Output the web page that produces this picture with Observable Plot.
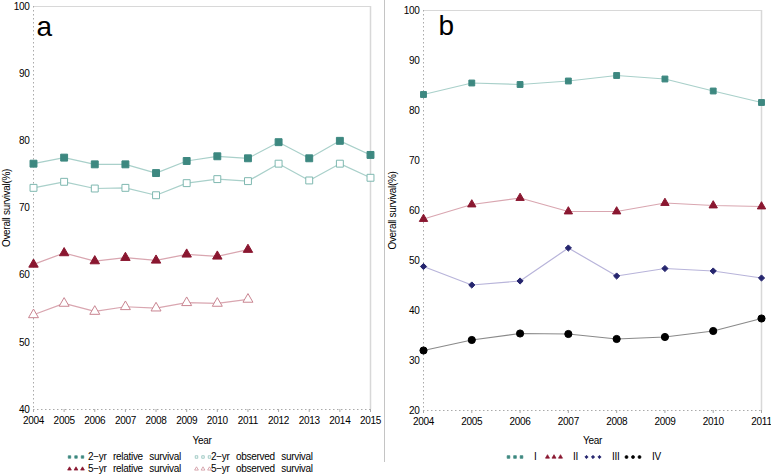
<!DOCTYPE html>
<html><head><meta charset="utf-8">
<script src="https://cdn.jsdelivr.net/npm/d3@7"></script>
<script src="https://cdn.jsdelivr.net/npm/@observablehq/plot@0.6"></script>
<style>
body{margin:0;background:#fff;font-family:"Liberation Sans",Arial,sans-serif;}
#wrap{position:relative;width:771px;height:475px;overflow:hidden;}
#pa{position:absolute;left:0;top:0;}
#pb{position:absolute;left:385px;top:0;}
#sep{position:absolute;left:384px;top:0;width:1px;height:462px;background:#c4c4c4;}
.leg{position:absolute;font-size:10px;color:#000;white-space:nowrap;line-height:12px;height:12px;}
.leg svg{position:absolute;top:2px;left:0;}
.leg span{position:absolute;top:0;word-spacing:4px;letter-spacing:-0.3px;}
</style></head>
<body><div id="wrap"><div id="pa"></div><div id="sep"></div><div id="pb"></div></div>
<script>
// ---- Panel a data ----
const yearsA = [2004,2005,2006,2007,2008,2009,2010,2011,2012,2013,2014,2015];
const rel2 = [76.6,77.5,76.5,76.5,75.2,77.0,77.7,77.4,79.8,77.4,80.0,77.9];
const obs2 = [73.0,73.9,72.9,73.0,71.9,73.7,74.3,74.0,76.6,74.1,76.6,74.5];
const yearsA5 = [2004,2005,2006,2007,2008,2009,2010,2011];
const rel5 = [61.6,63.3,62.1,62.6,62.2,63.1,62.8,63.8];
const obs5 = [54.1,55.8,54.6,55.3,55.1,55.9,55.8,56.4];
const ticksYA = [40,50,60,70,80,90,100];
const seriesA = ["2\u2212yr relative survival","2\u2212yr observed survival","5\u2212yr relative survival","5\u2212yr observed survival"];

// ---- Panel b data ----
const yearsB = [2004,2005,2006,2007,2008,2009,2010,2011];
const stageI = [83.2,85.5,85.2,85.9,87.0,86.3,83.9,81.6];
const stageII = [58.3,61.2,62.5,59.8,59.8,61.5,61.0,60.8];
const stageIII = [48.8,45.1,45.9,52.5,46.9,48.4,47.9,46.5];
const stageIV = [32.0,34.1,35.4,35.3,34.3,34.7,35.9,38.4];
const ticksYB = [20,30,40,50,60,70,80,90,100];
const stages = ["I","II","III","IV"];

const TEAL="#3d8880", TEAL_L="#a9d0ca", TEAL_O="#7fb8b0", RED="#8a1730", RED_L="#d9a6b0", RED_O="#c98591", NAVY="#25256e", NAVY_L="#b8b4da", BLK="#000", BLK_L="#8a8a8a";

const tbl = (xs, ys) => xs.map((x,i)=>({x, y: ys[i]}));

function frameMarks(xd, yd){
  return [
    Plot.ruleY([yd[1]], {stroke:"#d8d8d8"}),
    Plot.ruleX([xd[1]], {stroke:"#d8d8d8", strokeWidth:1.5}),
    Plot.ruleX([xd[0]], {stroke:"#aaa", strokeDasharray:"1.5,2.5"}),
    Plot.ruleY([yd[0]], {stroke:"#aaa", strokeDasharray:"1.5,2.5"})
  ];
}
function series(data, lineColor, sym, fill, stroke, r){
  return [
    Plot.line(data, {x:"x", y:"y", stroke:lineColor, strokeWidth:1.2}),
    Plot.dot(data, {x:"x", y:"y", symbol:sym, fill, stroke, r, strokeWidth:1})
  ];
}
const common = {fontFamily:"'Liberation Sans', Arial, sans-serif", fontSize:"10px", color:"#000", background:"#fff", letterSpacing:"-0.3px"};

// Panel a
const xdA=[2004,2015], ydA=[40,100];
const pa = Plot.plot({
  width:385, height:450, marginLeft:33, marginRight:15, marginTop:6, marginBottom:41,
  style: common,
  x:{domain:xdA}, y:{domain:ydA},
  marks:[
    ...frameMarks(xdA, ydA),
    Plot.axisX(yearsA, {tickSize:3, tickPadding:4, stroke:"#aaa", tickFormat:d=>String(d), label:null}),
    Plot.axisY(ticksYA, {tickSize:0, tickPadding:4, label:null}),
    ...series(tbl(yearsA,rel2), TEAL_L, "square", TEAL, TEAL, 3.9),
    ...series(tbl(yearsA,obs2), TEAL_L, "square", "#fff", TEAL_O, 3.9),
    ...series(tbl(yearsA5,rel5), RED_L, "triangle", RED, RED, 3.5),
    ...series(tbl(yearsA5,obs5), RED_L, "triangle", "#fff", RED_O, 3.7),
    Plot.text(["a"], {frameAnchor:"top-left", dx:3, dy:10, fontSize:28, lineAnchor:"top", textAnchor:"start"}),
    Plot.text(["Overall survival(%)"], {frameAnchor:"left", rotate:-90, dx:-27, textAnchor:"middle", fontSize:10}),
    Plot.text(["Year"], {frameAnchor:"bottom", dy:31, lineAnchor:"middle", fontSize:10})
  ]
});
document.getElementById("pa").appendChild(pa);

// Panel b
const xdB=[2004,2011], ydB=[20,100];
const pb = Plot.plot({
  width:386, height:450, marginLeft:38, marginRight:10, marginTop:10, marginBottom:40,
  style: common,
  x:{domain:xdB}, y:{domain:ydB},
  marks:[
    ...frameMarks(xdB, ydB),
    Plot.axisX(yearsB, {tickSize:3, tickPadding:4, stroke:"#aaa", tickFormat:d=>String(d), label:null}),
    Plot.axisY(ticksYB, {tickSize:0, tickPadding:4, label:null}),
    ...series(tbl(yearsB,stageI), TEAL_L, "square", TEAL, TEAL, 3.3),
    ...series(tbl(yearsB,stageII), RED_L, "triangle", RED, RED, 3.1),
    ...series(tbl(yearsB,stageIII), NAVY_L, "diamond2", NAVY, NAVY, 2.8),
    ...series(tbl(yearsB,stageIV), BLK_L, "circle", BLK, BLK, 3.6),
    Plot.text(["b"], {frameAnchor:"top-left", dx:15, dy:5, fontSize:28, lineAnchor:"top", textAnchor:"start"}),
    Plot.text(["Overall survival(%)"], {frameAnchor:"left", rotate:-90, dx:-31, textAnchor:"middle", fontSize:10}),
    Plot.text(["Year"], {frameAnchor:"bottom", dy:30, lineAnchor:"middle", fontSize:10})
  ]
});
document.getElementById("pb").appendChild(pb);

// Legends (HTML)
function markerSvg(sym, fill, stroke, r){
  const s = d3.select(document.createElementNS("http://www.w3.org/2000/svg","svg")).attr("width",20).attr("height",8);
  const shapes = {square:d3.symbolSquare, triangle:d3.symbolTriangle, diamond2:d3.symbolDiamond2, circle:d3.symbolCircle};
  [2.5,9,15.5].forEach(cx=>{
    s.append("path").attr("d", d3.symbol(shapes[sym], Math.PI*r*r)()).attr("transform",`translate(${cx},4)`)
     .attr("fill",fill).attr("stroke",stroke).attr("stroke-width",0.7);
  });
  return s.node();
}
function addLeg(left, top, sym, fill, stroke, r, label, textDx){
  const d = document.createElement("div");
  d.className="leg"; d.style.left=left+"px"; d.style.top=top+"px";
  d.appendChild(markerSvg(sym, fill, stroke, r));
  const sp=document.createElement("span"); sp.style.left=textDx+"px"; sp.textContent=label; d.appendChild(sp);
  document.getElementById("wrap").appendChild(d);
}
addLeg(67, 451, "square", TEAL, TEAL, 1.4, seriesA[0], 21);
addLeg(194, 451, "square", "#fff", TEAL_O, 1.4, seriesA[1], 17);
addLeg(67, 463, "triangle", RED, RED, 1.4, seriesA[2], 21);
addLeg(194, 463, "triangle", "#fff", RED_O, 1.4, seriesA[3], 17);
const legB = [[506,"square",TEAL,TEAL],[545,"triangle",RED,RED],[584,"diamond2",NAVY,NAVY],[624,"circle",BLK,BLK]];
legB.forEach((l,i)=>addLeg(l[0], 451, l[1], l[2], l[3], 1.5, stages[i], 28));
</script></body></html>
